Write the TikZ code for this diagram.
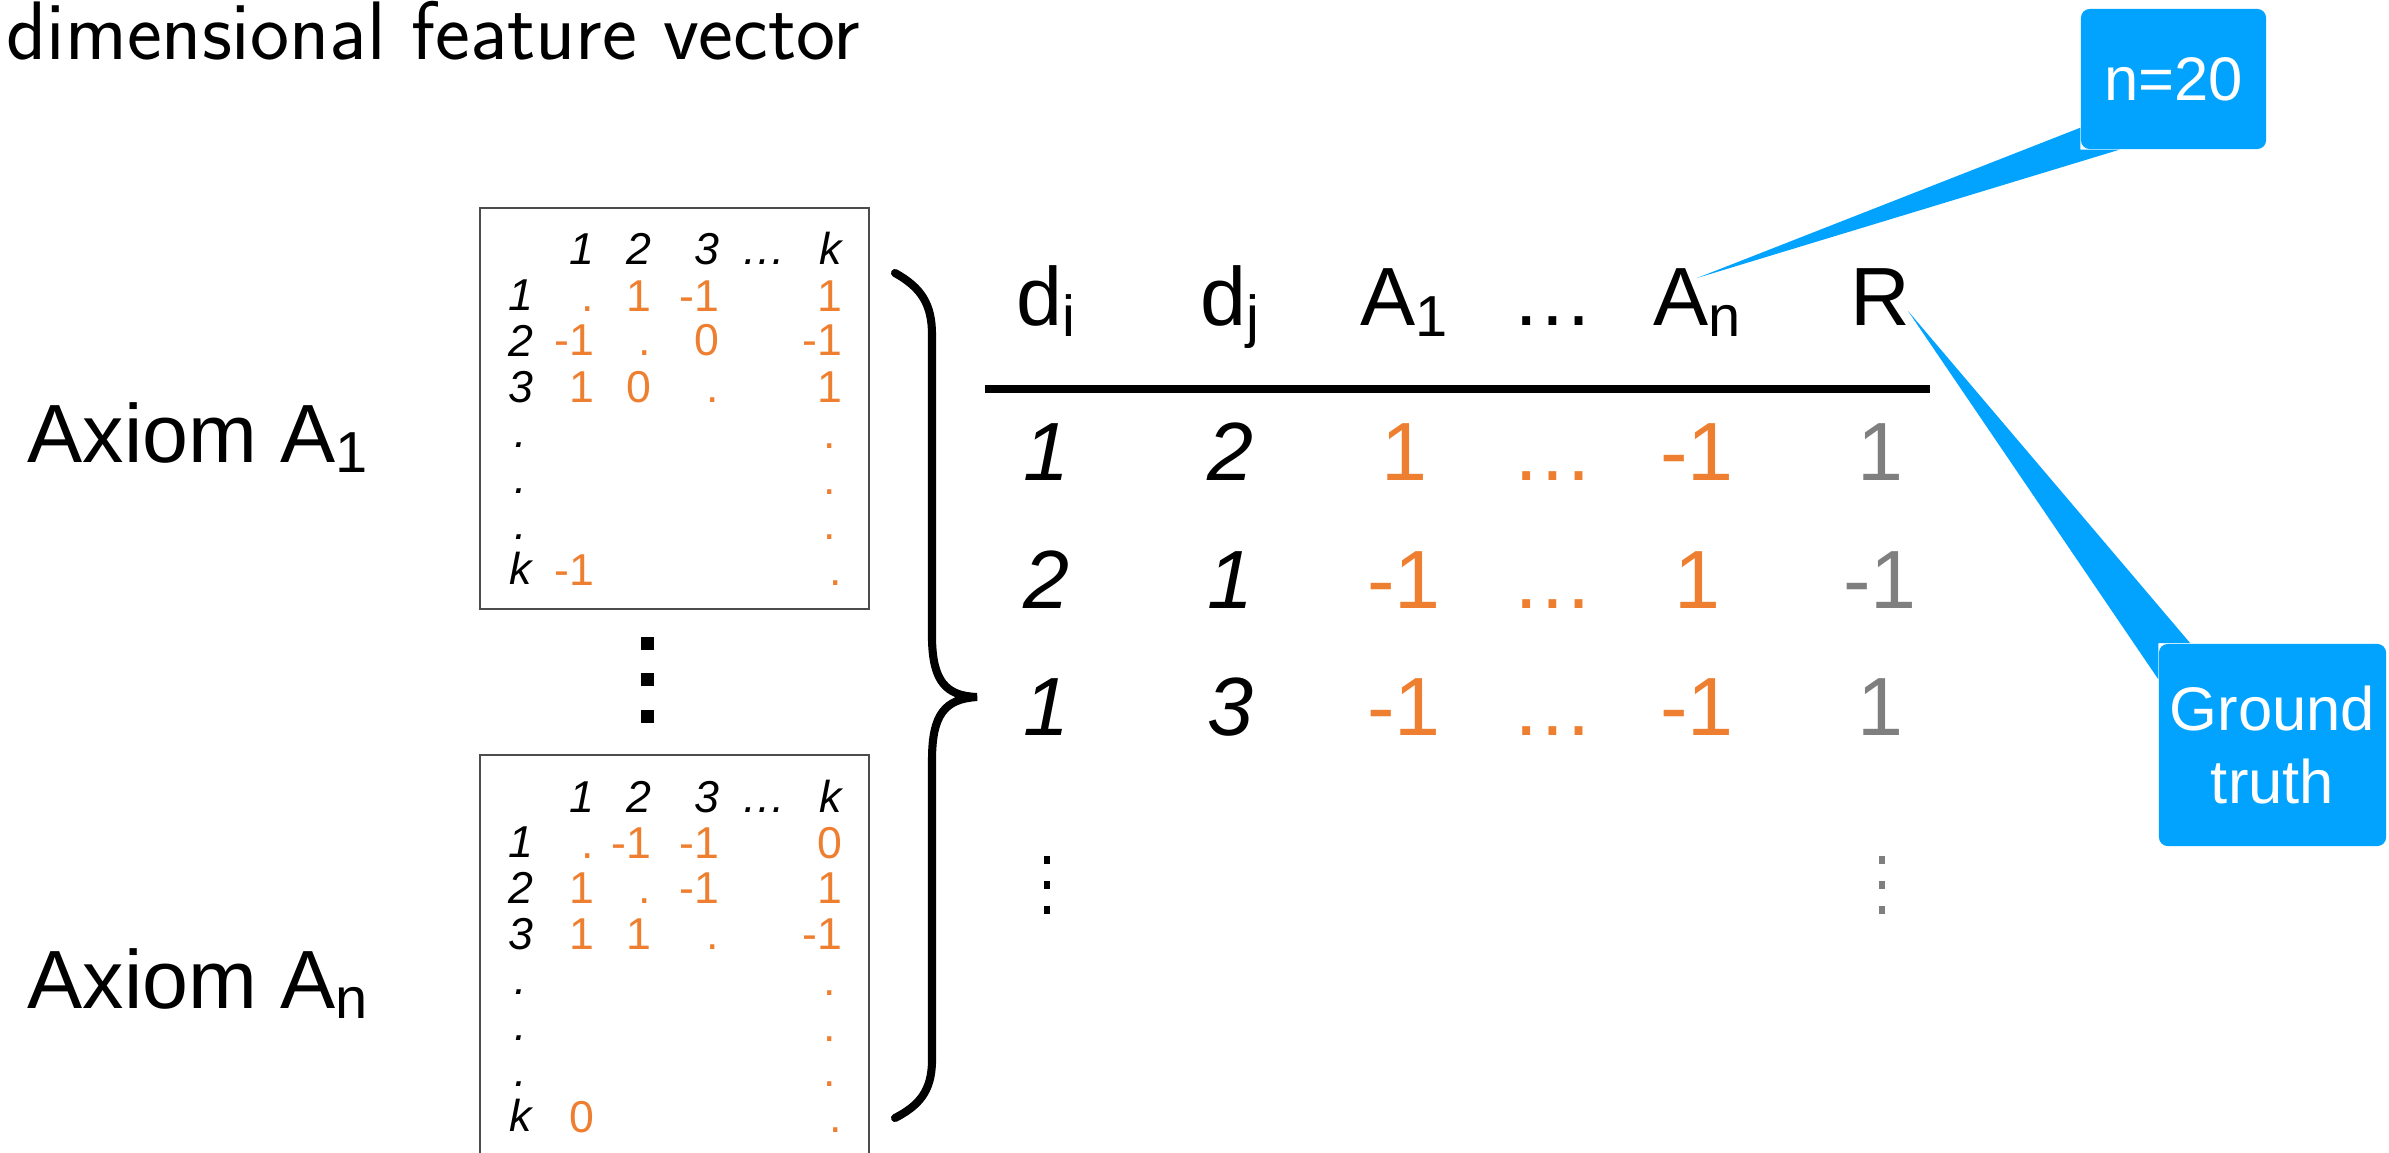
\documentclass[tikz,border=0pt]{standalone}
\usepackage{graphicx}
\usepackage{fontspec}
\setmainfont{Liberation Sans}
\usetikzlibrary{calc}
\definecolor{vote}{RGB}{238,127,48}
\definecolor{truthgray}{RGB}{127,127,127}
\definecolor{calloutblue}{RGB}{2,163,255}
\newcommand{\low}[1]{\raisebox{-0.13em}{\scalebox{0.7}{#1}}}

\begin{document}
\begin{tikzpicture}[x=0.01cm,y=-0.01cm,line cap=round,
  big/.style={inner sep=0,anchor=base,font=\fontsize{23.5}{28}\selectfont},
  num/.style={big,font=\fontsize{23.5}{28}\selectfont\itshape},
  cell/.style={inner sep=0,anchor=base east,text=vote,font=\fontsize{12.7}{15}\selectfont},
  idx/.style={cell,text=black,font=\fontsize{12.7}{15}\selectfont\itshape},
  callout/.style={fill=calloutblue,text=white,rounded corners=2.5pt,inner sep=0,
    font=\fontsize{17.5}{20.5}\selectfont,align=center}]
\useasboundingbox (0,0) rectangle (2389,1152);

% heading, cut by the top edge
\node[inner sep=0,anchor=base west,font=\sffamily\fontsize{23.6}{28}\selectfont] (head) at (6,60) {dimensional feature vector};

% axiom names
\node[big,anchor=base west] (ax1) at (27,462) {Axiom A\low{1}};
\node[big,anchor=base west] (axn) at (27,1008) {Axiom A\low{n}};

% pairwise votes of axiom A_1
\draw[black!70,line width=0.6pt] (480,208) rectangle (869,609);
\foreach \t/\x [count=\c] in {1/595,2/652,3/720,…/787,k/843}
  \node[idx] (a1h\c) at (\x,265) {\t};
\foreach \t [count=\r] in {1,2,3,.,.,.,k}
  \node[idx,anchor=base] (a1r\r) at (521,{265+45.7*\r}) {\t};
\node[cell] (a1c11) at (595,311) {.};
\node[cell] (a1c12) at (652,311) {1};
\node[cell] (a1c13) at (720,311) {-1};
\node[cell] (a1c1k) at (843,311) {1};
\node[cell] (a1c21) at (595,356) {-1};
\node[cell] (a1c22) at (652,356) {.};
\node[cell] (a1c23) at (720,356) {0};
\node[cell] (a1c2k) at (843,356) {-1};
\node[cell] (a1c31) at (595,402) {1};
\node[cell] (a1c32) at (652,402) {0};
\node[cell] (a1c33) at (720,402) {.};
\node[cell] (a1c3k) at (843,402) {1};
\node[cell] (a1c4k) at (837,448) {.};
\node[cell] (a1c5k) at (837,494) {.};
\node[cell] (a1c6k) at (837,539) {.};
\node[cell] (a1ck1) at (595,585) {-1};
\node[cell] (a1ckk) at (843,585) {.};

% more axioms in between
\foreach \y in {643,679,716}
  \fill (641,{\y-6.5}) rectangle (654,{\y+6.5});

% pairwise votes of axiom A_n
\begin{scope}[shift={(0,547)}]
\draw[black!70,line width=0.6pt] (480,208) rectangle (869,609);
\foreach \t/\x [count=\c] in {1/595,2/652,3/720,…/787,k/843}
  \node[idx] (anh\c) at (\x,265) {\t};
\foreach \t [count=\r] in {1,2,3,.,.,.,k}
  \node[idx,anchor=base] (anr\r) at (521,{265+45.7*\r}) {\t};
\node[cell] (anc11) at (595,311) {.};
\node[cell] (anc12) at (652,311) {-1};
\node[cell] (anc13) at (720,311) {-1};
\node[cell] (anc1k) at (843,311) {0};
\node[cell] (anc21) at (595,356) {1};
\node[cell] (anc22) at (652,356) {.};
\node[cell] (anc23) at (720,356) {-1};
\node[cell] (anc2k) at (843,356) {1};
\node[cell] (anc31) at (595,402) {1};
\node[cell] (anc32) at (652,402) {1};
\node[cell] (anc33) at (720,402) {.};
\node[cell] (anc3k) at (843,402) {-1};
\node[cell] (anc4k) at (837,448) {.};
\node[cell] (anc5k) at (837,494) {.};
\node[cell] (anc6k) at (837,539) {.};
\node[cell] (anck1) at (595,585) {0};
\node[cell] (anckk) at (843,585) {.};
\end{scope}

% brace gathering the matrices
\draw[line width=2.3pt] (895,273) .. controls (922,288) and (932,305) .. (932,335) -- (932,640)
  .. controls (933,680) and (945,696) .. (977,697)
  .. controls (945,699) and (932,714) .. (932,760) -- (932,1060)
  .. controls (932,1092) and (918,1106) .. (895,1118);

% feature table
\node[big] (hdi) at (1046,326) {d\low{i}};
\node[big] (hdj) at (1230,326) {d\low{j}};
\node[big] (hA1) at (1404,326) {A\low{1}};
\node[big] (hdots) at (1553,326) {…};
\node[big] (hAn) at (1697,326) {A\low{n}};
\node[big] (hR) at (1880,326) {R};
\draw[line width=2.3pt,line cap=butt] (985,389) -- (1930,389);
\foreach \y/\i/\j/\a/\b/\r [count=\k] in {480/1/2/1/-1/1,608/2/1/-1/1/-1,735/1/3/-1/-1/1}{
  \node[num] (ti\k) at (1046,\y) {\i};
  \node[num] (tj\k) at (1230,\y) {\j};
  \node[big,text=vote] (ta\k) at (1404,\y) {\a};
  \node[big,text=vote] (td\k) at (1553,\y) {…};
  \node[big,text=vote] (tb\k) at (1697,\y) {\b};
  \node[big,text=truthgray] (tr\k) at (1880,\y) {\r};
}
\foreach \y in {860,885,910}{
  \fill (1044,{\y-4}) rectangle (1050,{\y+4});
  \fill[truthgray] (1879,{\y-4}) rectangle (1885,{\y+4});
}

% callouts
\node[callout,minimum width=1.85cm,minimum height=1.4cm] (nbox) at (2173.5,79) {n=20};
\fill[calloutblue] ($(nbox.south west)+(0,-22)$) -- ($(hAn.base)+(0,-48)$)
  -- ($(nbox.south west)+(39,0)$) -- (nbox.south west) -- cycle;
\node[callout,minimum width=2.27cm,minimum height=2.02cm] (gbox) at (2272.5,745) {Ground\\truth};
\fill[calloutblue] ($(gbox.north west)+(32,0)$) -- ($(hR.base)+(28,-15)$)
  -- ($(gbox.north west)+(0,36)$) -- (gbox.north west) -- cycle;
\end{tikzpicture}
\end{document}
